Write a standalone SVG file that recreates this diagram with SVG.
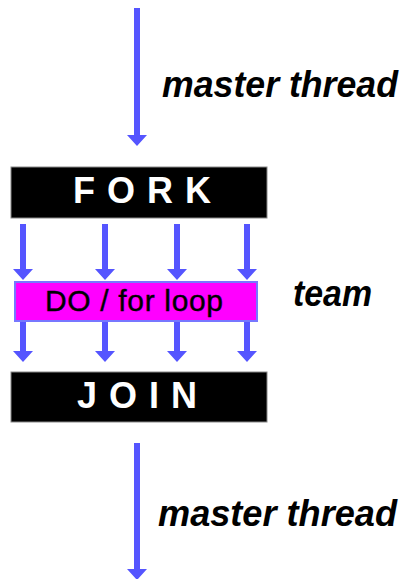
<svg xmlns="http://www.w3.org/2000/svg" width="406" height="579" viewBox="0 0 406 579">
<style>
.arrow{fill:#5555ff;stroke:none}
.bar{fill:#000;stroke:#888;stroke-width:1}
.barText{font-family:"Liberation Sans",Arial,sans-serif;font-size:36px;font-weight:bold;fill:#fff;letter-spacing:12px}
.label{font-family:"Liberation Sans",Arial,sans-serif;font-size:36px;font-weight:bold;font-style:italic;fill:#000}
.loop{fill:#ff00ff;stroke:#7777ff;stroke-width:2}
.loopText{font-family:"Liberation Sans",Arial,sans-serif;font-size:30px;fill:#000;stroke:#000;stroke-width:0.4}
</style>
<rect width="406" height="579" fill="#fff"/>
<g id="connectors">
  <path class="arrow" d="M134,8 H140 V135 H147 L137,146 L127,135 H134 Z"/>
  <path class="arrow" d="M20,224 H26 V269 H33 L23,280 L13,269 H20 Z"/>
  <path class="arrow" d="M102,224 H108 V269 H115 L105,280 L95,269 H102 Z"/>
  <path class="arrow" d="M174,224 H180 V269 H187 L177,280 L167,269 H174 Z"/>
  <path class="arrow" d="M244,224 H250 V269 H257 L247,280 L237,269 H244 Z"/>
  <path class="arrow" d="M20,321 H26 V351 H33 L23,362 L13,351 H20 Z"/>
  <path class="arrow" d="M102,321 H108 V351 H115 L105,362 L95,351 H102 Z"/>
  <path class="arrow" d="M174,321 H180 V351 H187 L177,362 L167,351 H174 Z"/>
  <path class="arrow" d="M244,321 H250 V351 H257 L247,362 L237,351 H244 Z"/>
  <path class="arrow" d="M134,443 H140 V569 H147 L137,580 L127,569 H134 Z"/>
</g>
<g id="label-master-top">
  <text class="label" x="162" y="97" textLength="236" lengthAdjust="spacingAndGlyphs">master thread</text>
</g>
<g id="fork">
  <rect class="bar" x="11" y="167" width="256" height="51"/>
  <text class="barText" x="73" y="203">FORK</text>
</g>
<g id="loop">
  <rect class="loop" x="15" y="282" width="242" height="39"/>
  <text class="loopText" x="45" y="311" textLength="178" lengthAdjust="spacing">DO / for loop</text>
</g>
<g id="label-team">
  <text class="label" x="293" y="306" textLength="79" lengthAdjust="spacingAndGlyphs">team</text>
</g>
<g id="join">
  <rect class="bar" x="11" y="372" width="256" height="50"/>
  <text class="barText" x="77" y="408">JOIN</text>
</g>
<g id="label-master-bottom">
  <text class="label" x="158" y="526" textLength="239" lengthAdjust="spacingAndGlyphs">master thread</text>
</g>
</svg>
